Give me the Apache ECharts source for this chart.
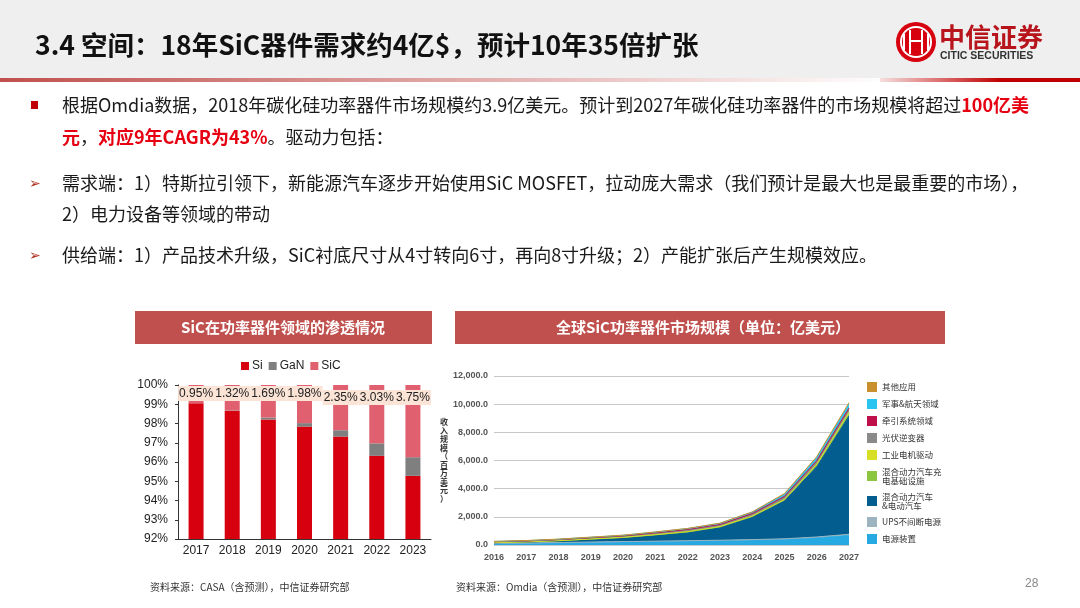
<!DOCTYPE html>
<html>
<head>
<meta charset="utf-8">
<script src="https://cdn.jsdelivr.net/npm/echarts@6/dist/echarts.min.js"></script>
<style>
html,body{margin:0;padding:0;background:#fff;}
#main{width:1080px;height:608px;}
</style>
</head>
<body>
<div id="main"></div>
<script>
// ---- Left chart data: share of power devices (%)
const shareYears = ['2017','2018','2019','2020','2021','2022','2023'];
const siShare  = [99.05, 98.66, 98.21, 97.84, 97.32, 96.32, 95.28];
const ganShare = [0.00, 0.02, 0.10, 0.18, 0.33, 0.65, 0.97];
const sicShare = [0.95, 1.32, 1.69, 1.98, 2.35, 3.03, 3.75];
const shareTicks = [92, 100, 1];

// ---- Right chart data: global SiC power device market (million USD)
const mktYears = ['2016','2017','2018','2019','2020','2021','2022','2023','2024','2025','2026','2027'];
const powerSupply = [110,130,160,190,220,250,280,310,350,400,520,700];
const ups         = [10,12,15,18,20,22,25,28,32,38,48,60];
const evHev       = [40,70,120,200,280,430,600,920,1600,2700,5000,8400];
const charging    = [5,6,8,10,14,18,24,30,40,60,110,180];
const motorDrive  = [5,6,7,9,11,14,18,22,30,40,60,90];
const pvInverter  = [60,60,70,85,100,120,145,135,160,190,220,250];
const traction    = [3,4,5,6,8,10,13,15,18,22,30,40];
const military    = [15,18,22,28,34,50,60,70,100,160,230,300];
const others      = [12,14,13,14,13,16,15,20,20,40,52,80];
const mktTicks = [0, 12000, 2000];

const mktSeriesDefs = [
  ['电源装置', powerSupply, '#27a9e1'],
  ['UPS不间断电源', ups, '#9db3bf'],
  ['混合动力汽车\n&电动汽车', evHev, '#045d8f'],
  ['混合动力汽车充\n电基础设施', charging, '#8cc63e'],
  ['工业电机驱动', motorDrive, '#d6df23'],
  ['光伏逆变器', pvInverter, '#8a8a8a'],
  ['牵引系统领域', traction, '#be0f4a'],
  ['军事&航天领域', military, '#29c4ef'],
  ['其他应用', others, '#c9912d']
];

const CJK = '"Noto Sans CJK SC", "Liberation Sans", sans-serif';
const LAT = '"Liberation Sans", "Noto Sans CJK SC", sans-serif';

const chart = echarts.init(document.getElementById('main'), null, {renderer: 'canvas'});

const sicData = sicShare.map((v, i) => ({
  value: v,
  label: {offset: [0, i < 4 ? 0 : 4]}
}));

const mktSeries = mktSeriesDefs.map(d => ({
  name: d[0], type: 'line', stack: 'mkt', xAxisIndex: 1, yAxisIndex: 1,
  data: d[1], color: d[2], symbol: 'none', smooth: false,
  lineStyle: {width: 1, color: d[2]},
  areaStyle: {color: d[2], opacity: 1},
  emphasis: {disabled: true}
}));

const bodyStyle = {font: '18px ' + CJK, fill: '#1a1a1a'};
const richRed = {r: {fill: '#e60012', fontWeight: 'bold', fontSize: 18, fontFamily: CJK}};

const option = {
  animation: false,
  textStyle: {fontFamily: CJK},
  graphic: {elements: [
    {type: 'rect', shape: {x: 0, y: 0, width: 1080, height: 78}, style: {fill: '#efefef'}, z: -10},
    {type: 'rect', shape: {x: 0, y: 78, width: 890, height: 4},
      style: {fill: new echarts.graphic.LinearGradient(0, 0, 1, 0, [{offset: 0, color: '#c0504d'}, {offset: 1, color: '#ffffff'}])}},
    {type: 'rect', shape: {x: 880, y: 78, width: 200, height: 4},
      style: {fill: new echarts.graphic.LinearGradient(0, 0, 1, 0, [{offset: 0, color: '#f6dede'}, {offset: 0.6, color: '#c00000'}, {offset: 1, color: '#c00000'}])}},
    {type: 'text', x: 35, y: 45, style: {text: '3.4 空间：18年SiC器件需求约4亿$，预计10年35倍扩张', font: 'bold 26.5px ' + CJK, fill: '#111', verticalAlign: 'middle'}},
    // logo
    {type: 'circle', shape: {cx: 916, cy: 42, r: 20}, style: {fill: '#d7000f'}},
    {type: 'circle', shape: {cx: 916, cy: 42, r: 16}, style: {fill: '#fff'}},
    {type: 'circle', shape: {cx: 916, cy: 42, r: 14}, style: {fill: '#d7000f'}},
    {type: 'rect', shape: {x: 909, y: 30, width: 2, height: 24}, style: {fill: '#fff'}},
    {type: 'rect', shape: {x: 921, y: 30, width: 2, height: 24}, style: {fill: '#fff'}},
    {type: 'rect', shape: {x: 903, y: 34, width: 2, height: 16}, style: {fill: '#fff'}},
    {type: 'rect', shape: {x: 927, y: 34, width: 2, height: 16}, style: {fill: '#fff'}},
    {type: 'rect', shape: {x: 909, y: 40, width: 14, height: 2}, style: {fill: '#fff'}},
    {type: 'text', x: 939, y: 37, style: {text: '中信证券', font: 'bold 26px ' + CJK, fill: '#b8141c', verticalAlign: 'middle'}},
    {type: 'text', x: 940, y: 56, style: {text: 'CITIC SECURITIES', font: 'bold 10.5px ' + LAT, fill: '#333', verticalAlign: 'middle'}},
    // bullets
    {type: 'rect', shape: {x: 31, y: 101, width: 7, height: 8}, style: {fill: '#c00000'}},
    {type: 'text', x: 62, y: 105, style: Object.assign({}, bodyStyle, {verticalAlign: 'middle',
      text: '根据Omdia数据，2018年碳化硅功率器件市场规模约3.9亿美元。预计到2027年碳化硅功率器件的市场规模将超过{r|100亿美}', rich: richRed})},
    {type: 'text', x: 62, y: 137, style: Object.assign({}, bodyStyle, {verticalAlign: 'middle',
      text: '{r|元}，{r|对应9年CAGR为43%}。驱动力包括：', rich: richRed})},
    {type: 'text', x: 29, y: 184, style: {text: '➢', font: '14px "DejaVu Sans"', fill: '#b03020', verticalAlign: 'middle'}},
    {type: 'text', x: 62, y: 183, style: Object.assign({}, bodyStyle, {verticalAlign: 'middle',
      text: '需求端：1）特斯拉引领下，新能源汽车逐步开始使用SiC MOSFET，拉动庞大需求（我们预计是最大也是最重要的市场），'})},
    {type: 'text', x: 62, y: 214, style: Object.assign({}, bodyStyle, {verticalAlign: 'middle', text: '2）电力设备等领域的带动'})},
    {type: 'text', x: 29, y: 256, style: {text: '➢', font: '14px "DejaVu Sans"', fill: '#b03020', verticalAlign: 'middle'}},
    {type: 'text', x: 62, y: 255, style: Object.assign({}, bodyStyle, {verticalAlign: 'middle',
      text: '供给端：1）产品技术升级，SiC衬底尺寸从4寸转向6寸，再向8寸升级；2）产能扩张后产生规模效应。'})},
    // chart title boxes
    {type: 'rect', shape: {x: 135, y: 311, width: 297, height: 33}, style: {fill: '#c0504d'}},
    {type: 'text', x: 283, y: 327.5, style: {text: 'SiC在功率器件领域的渗透情况', font: 'bold 15px ' + CJK, fill: '#fff', align: 'center', verticalAlign: 'middle'}},
    {type: 'rect', shape: {x: 455, y: 311, width: 490, height: 33}, style: {fill: '#c0504d'}},
    {type: 'text', x: 703, y: 327.5, style: {text: '全球SiC功率器件市场规模（单位：亿美元）', font: 'bold 15px ' + CJK, fill: '#fff', align: 'center', verticalAlign: 'middle'}},
    // footers
    {type: 'text', x: 150, y: 587, style: {text: '资料来源：CASA（含预测），中信证券研究部', font: '10px ' + CJK, fill: '#333', verticalAlign: 'middle'}},
    {type: 'text', x: 456, y: 587, style: {text: '资料来源：Omdia（含预测），中信证券研究部', font: '10px ' + CJK, fill: '#333', verticalAlign: 'middle'}},
    {type: 'text', x: 1025, y: 584, style: {text: '28', font: '12px ' + LAT, fill: '#888', verticalAlign: 'middle'}}
  ]},
  legend: [
    {
      data: ['Si', 'GaN', 'SiC'], left: 236, top: 355, itemWidth: 8, itemHeight: 8, itemGap: 6,
      icon: 'rect', textStyle: {fontSize: 12, fontFamily: LAT, color: '#222', padding: [0, 0, 0, -2]}
    },
    {
      data: mktSeriesDefs.map(d => d[0]).reverse(), orient: 'vertical', left: 862, top: 377,
      itemWidth: 10, itemHeight: 10, itemGap: 7, icon: 'rect',
      textStyle: {fontSize: 8.5, lineHeight: 9, color: '#333', fontFamily: CJK}
    }
  ],
  grid: [
    {left: 178, top: 385, width: 253, height: 154},
    {left: 494, top: 376, width: 355, height: 169}
  ],
  xAxis: [
    {type: 'category', gridIndex: 0, data: shareYears,
      axisLine: {lineStyle: {color: '#333'}}, axisTick: {show: false},
      axisLabel: {fontSize: 12, fontFamily: LAT, color: '#222', margin: 6}},
    {type: 'category', gridIndex: 1, data: mktYears, boundaryGap: false,
      axisLine: {show: false}, axisTick: {show: false},
      axisLabel: {fontSize: 9, fontWeight: 'bold', fontFamily: LAT, color: '#555', margin: 8}}
  ],
  yAxis: [
    {type: 'value', gridIndex: 0, min: shareTicks[0], max: shareTicks[1], interval: shareTicks[2],
      axisLine: {show: true, lineStyle: {color: '#333'}}, axisTick: {show: true, length: 3, lineStyle: {color: '#333'}},
      splitLine: {show: false},
      axisLabel: {formatter: '{value}%', fontSize: 12, fontFamily: LAT, color: '#222', margin: 10}},
    {type: 'value', gridIndex: 1, min: mktTicks[0], max: mktTicks[1], interval: mktTicks[2],
      axisLine: {show: false}, axisTick: {show: false},
      splitLine: {lineStyle: {color: '#c8c8c8', width: 1}},
      axisLabel: {formatter: v => v.toLocaleString('en-US', {minimumFractionDigits: 1, maximumFractionDigits: 1}),
        fontSize: 9, fontWeight: 'bold', fontFamily: LAT, color: '#555', margin: 6},
      name: '收\n入\n规\n模\n（\n百\n万\n美\n元\n）', nameLocation: 'middle', nameRotate: 0, nameGap: 40,
      nameTextStyle: {fontSize: 8, lineHeight: 8.5, fontWeight: 'bold', color: '#333', fontFamily: CJK}}
  ],
  series: [
    {name: 'Si', type: 'bar', stack: 'share', xAxisIndex: 0, yAxisIndex: 0, data: siShare, barWidth: 15,
      color: '#d7000f', clip: true, emphasis: {disabled: true}},
    {name: 'GaN', type: 'bar', stack: 'share', xAxisIndex: 0, yAxisIndex: 0, data: ganShare, barWidth: 15,
      color: '#7f7f7f', clip: true, emphasis: {disabled: true}},
    {name: 'SiC', type: 'bar', stack: 'share', xAxisIndex: 0, yAxisIndex: 0, data: sicData, barWidth: 15,
      color: '#e0606f', clip: true, emphasis: {disabled: true},
      label: {show: true, position: 'insideTop', distance: 1,
        formatter: p => sicShare[p.dataIndex].toFixed(2) + '%',
        fontSize: 12, fontFamily: LAT, color: '#222', backgroundColor: '#fbe3d5', padding: [2, 1, 1, 1]}}
  ].concat(mktSeries)
};
chart.setOption(option);
</script>
</body>
</html>
